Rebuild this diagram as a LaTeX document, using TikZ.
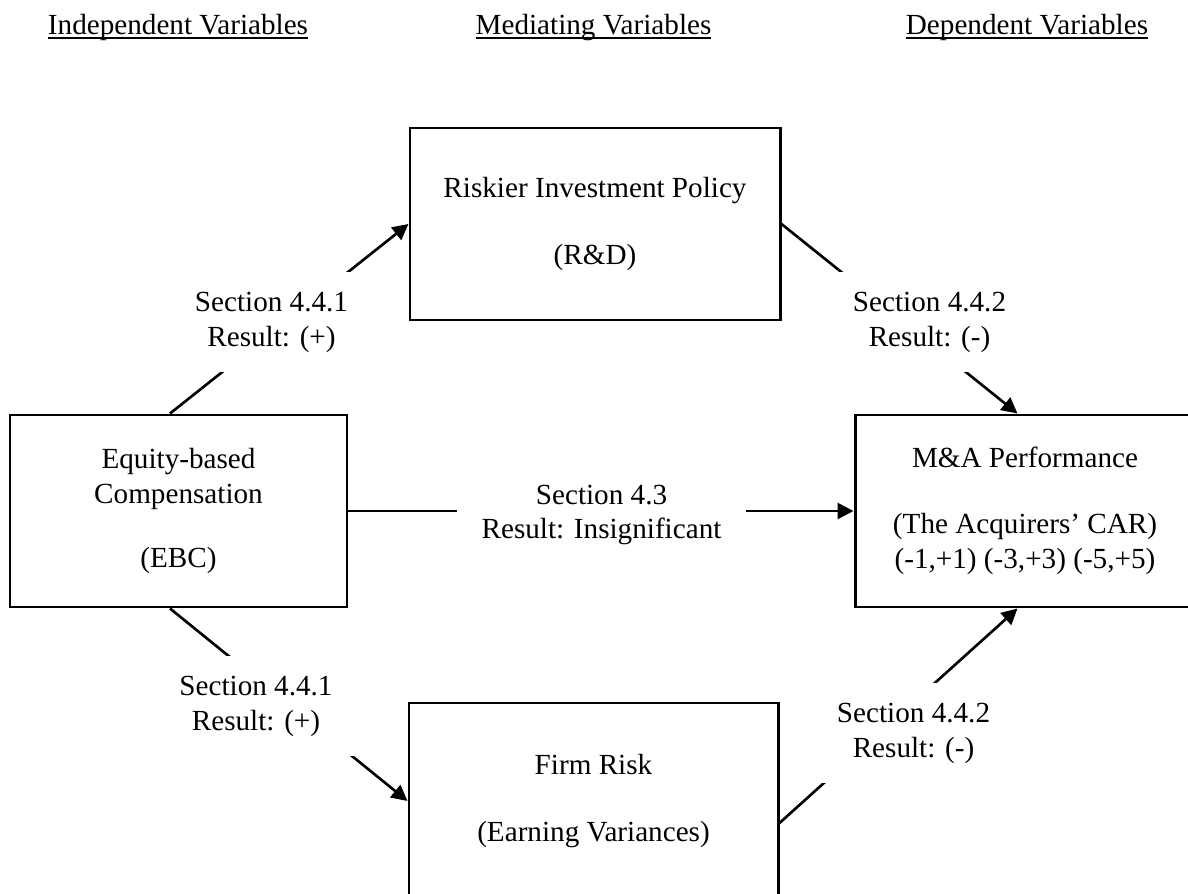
\documentclass[tikz,border=0pt]{standalone}
\usepackage{fontspec}
\setmainfont{Liberation Serif}
\usetikzlibrary{arrows.meta}
\newcommand{\hdrul}[1]{\setbox0\hbox{#1}\rlap{\vrule height -0.9pt depth 2.4pt width \wd0}\box0}

\begin{document}
\begin{tikzpicture}[font=\fontsize{16.6}{19.9}\selectfont,
  varbox/.style={draw,line width=1.7pt,align=center},
  conn/.style={line width=1.5pt,-{Triangle[length=9pt,width=9pt]}},
  lbl/.style={fill=white,align=center,inner xsep=0.5cm,inner ysep=0.4cm},
  hdr/.style={anchor=base}]
\useasboundingbox (0,0) rectangle (23.76,17.86);
\node[hdr] (indep) at (3.56,17.16) {\hdrul{Independent Variables}};
\node[hdr] (medi) at (11.87,17.16) {\hdrul{Mediating Variables}};
\node[hdr] (dep) at (20.54,17.16) {\hdrul{Dependent Variables}};
\node[varbox,minimum width=6.74cm,minimum height=3.84cm] (ebc) at (3.57,7.64) {Equity-based\\Compensation\\[17pt](EBC)};
\node[varbox,minimum width=7.4cm,minimum height=3.84cm] (rd) at (11.9,13.38) {Riskier Investment Policy\\[18pt](R\&D)};
\node[varbox,minimum width=6.8cm,minimum height=3.84cm] (car) at (20.5,7.64) {M\&A Performance\\[18pt](The Acquirers' CAR)\\(-1,+1) (-3,+3) (-5,+5)};
\node[varbox,minimum width=7.38cm,minimum height=3.92cm] (risk) at (11.87,1.84) {Firm Risk\\[18pt](Earning Variances)};
\draw[conn] ([xshift=-0.17cm]ebc.north) -- (rd.west);
\draw[conn] (rd.east) -- ([xshift=-0.15cm]car.north);
\draw[conn] (ebc.east) -- (car.west);
\draw[conn] ([xshift=-0.17cm]ebc.south) -- (risk.west);
\draw[conn] ([yshift=-0.44cm]risk.east) -- ([xshift=-0.15cm]car.south);
\node[lbl] (rdres) at (5.43,11.42) {Section 4.4.1\\Result: (+)};
\node[lbl] (rdcar) at (18.59,11.42) {Section 4.4.2\\Result: (-)};
\node[lbl] (direct) at (12.03,7.56) {Section 4.3\\Result: Insignificant};
\node[lbl] (riskres) at (5.12,3.74) {Section 4.4.1\\Result: (+)};
\node[lbl] (riskcar) at (18.27,3.20) {Section 4.4.2\\Result: (-)};
\end{tikzpicture}
\end{document}
